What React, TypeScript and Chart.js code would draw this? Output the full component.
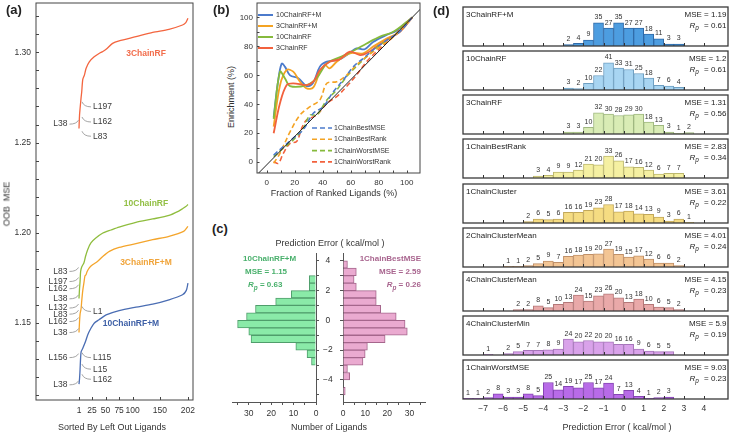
import React, { useEffect, useRef } from "react";
import { Chart, registerables } from "chart.js";
Chart.register(...registerables);

const FONT = "'Liberation Sans', Arial, Helvetica, sans-serif";
const INK = "#333333";
const AXIS = "#555555";

// ---------------- Panel (a): sorted OOB MSE ----------------
const aXTicks = [1, 25, 50, 75, 100, 150, 202];
const aYTicks = [1.11, 1.12, 1.13, 1.14, 1.15, 1.16, 1.17, 1.18, 1.19, 1.2, 1.21, 1.22, 1.23, 1.24, 1.25, 1.26, 1.27, 1.28, 1.29, 1.3, 1.31, 1.32];
const rf3N = [1, 2, 3, 5, 6, 8, 11, 14, 20, 29, 38, 45, 51, 63, 75, 106, 137, 167, 192, 198, 202];
const rf3Mse = [1.2578, 1.2652, 1.2689, 1.2753, 1.278, 1.285, 1.2874, 1.2911, 1.2948, 1.2976, 1.2994, 1.3005, 1.3017, 1.305, 1.3064, 1.3087, 1.3111, 1.3128, 1.3152, 1.3165, 1.3189];
const rf10N = [1, 2, 3, 4, 6, 10, 13, 17, 23, 32, 45, 60, 75, 106, 137, 167, 185, 192, 198, 202];
const rf10Mse = [1.1635, 1.169, 1.173, 1.1785, 1.181, 1.1832, 1.1868, 1.1906, 1.1943, 1.197, 1.1998, 1.2015, 1.2031, 1.2057, 1.2076, 1.2096, 1.212, 1.2133, 1.2145, 1.2156];
const rf3mN = [1, 2, 3, 4, 5, 6, 8, 10, 12, 14, 16, 20, 26, 35, 45, 57, 75, 106, 137, 167, 194, 202];
const rf3mMse = [1.1446, 1.1507, 1.1548, 1.1565, 1.1582, 1.162, 1.168, 1.172, 1.176, 1.1767, 1.1785, 1.1805, 1.1822, 1.184, 1.1868, 1.1896, 1.1918, 1.1939, 1.1961, 1.198, 1.2007, 1.2035];
const rf10mN = [1, 2, 3, 4, 5, 8, 13, 17, 23, 29, 38, 51, 75, 106, 137, 167, 192, 199, 202];
const rf10mMse = [1.116, 1.119, 1.1243, 1.1307, 1.134, 1.1359, 1.1396, 1.1433, 1.147, 1.1498, 1.1517, 1.1544, 1.1568, 1.1587, 1.1604, 1.1628, 1.1656, 1.168, 1.172];
const aColors = ["#f3653f", "#8fbd3e", "#f4a52c", "#4a6db3"];
const aNameText = ["3ChainRF", "10ChainRF", "3ChainRF+M", "10ChainRF+M"];
const aNameColor = ["#f26d4c", "#92bf44", "#f0a43a", "#3d5fa6"];
const aNameN = [124.6, 124.6, 124.6, 96.9];
const aNameMse = [1.2994, 1.2159, 1.1832, 1.1498];
const aNoteText = ["L197", "L162", "L83", "L38", "L83", "L197", "L162", "L38", "L132", "L83", "L162", "L38", "L1", "L156", "L115", "L15", "L162", "L38"];
const aNoteSide = ["r", "r", "r", "l", "l", "l", "l", "l", "l", "l", "l", "l", "r", "l", "r", "r", "r", "l"];
const aNoteMse = [1.2698, 1.2614, 1.2535, 1.2602, 1.1785, 1.1729, 1.1689, 1.1633, 1.1582, 1.1548, 1.1507, 1.1446, 1.1563, 1.1307, 1.1307, 1.1243, 1.1187, 1.1156];
const aNoteLeftN = -20.2;
const aNoteRightN = 26.8;

// ---------------- Panel (b): enrichment ----------------
const bSolidNames = ["10ChainRF+M", "3ChainRF+M", "10ChainRF", "3ChainRF"];
const bDashNames = ["1ChainBestMSE", "1ChainBestRank", "1ChainWorstMSE", "1ChainWorstRank"];
const bColors = ["#4c7bcc", "#f4a323", "#86ba3c", "#f2613d"];
const bTicks = [0, 20, 40, 60, 80, 100];
const bMinorTicks = [0, 10, 20, 30, 40, 50, 60, 70, 80, 90, 100];
const bRf10mX = [5, 8, 10.7, 13, 16.7, 22.6, 28.6, 33, 38, 43, 52, 59.5, 64, 70, 76, 86, 93, 104];
const bRf10mY = [31, 55, 68, 66, 60, 58, 52.6, 54.5, 66, 69.4, 71, 75.6, 78.6, 78, 83, 88, 91, 100];
const bRf3mX = [5, 9.5, 14.3, 19, 23.8, 28.6, 33.3, 38, 41.7, 45, 50, 59.5, 69, 76, 86, 95, 104];
const bRf3mY = [24.6, 53, 63.7, 62.5, 55.6, 51, 51.7, 62.5, 67, 64.8, 69.4, 75.2, 75.2, 79.8, 85.5, 90, 100];
const bRf10X = [5, 9.5, 13, 16.7, 28.6, 35.7, 43, 52, 62, 71.4, 81, 90.5, 104];
const bRf10Y = [30, 62.5, 58, 52.6, 53.3, 58, 68.3, 72.4, 77, 82, 86.7, 90, 100];
const bRf3X = [5, 9.5, 14.3, 19, 28.6, 33.3, 38, 45, 52, 59.5, 66.7, 71.4, 78.6, 86, 95, 104];
const bRf3Y = [20, 40.7, 53.3, 54.5, 53.3, 55.6, 63.7, 69.4, 71, 76.3, 74, 75.2, 79.8, 84.4, 90, 100];
const bBestMseX = [5, 11.9, 19, 26, 33.3, 40.5, 47.6, 54.8, 62, 69, 76, 86, 95, 104];
const bBestMseY = [5, 10.8, 16.6, 22.3, 33.8, 38.4, 48.7, 56.8, 66, 71.7, 77.5, 84.4, 90, 100];
const bBestRankX = [5, 9.5, 16.7, 23.8, 31, 38, 43, 50, 57, 64, 71.4, 81, 90.5, 104];
const bBestRankY = [-0.7, 6.2, 21, 32.6, 38.4, 43, 54.5, 55.6, 60, 67, 72.9, 79.8, 86.7, 100];
const bWorstMseX = [5, 11.9, 19, 26, 31, 35.7, 43, 50, 57, 64, 71.4, 81, 90.5, 104];
const bWorstMseY = [3.9, 9.7, 15.4, 23.4, 32.6, 32.6, 43, 49.9, 59, 66, 72.9, 81, 86.7, 100];
const bWorstRankX = [5, 8.3, 11.9, 16.7, 21.4, 25, 28.6, 35.7, 43, 50, 57, 64, 71.4, 81, 90.5, 104];
const bWorstRankY = [0.5, -0.7, 6.2, 13.1, 14.3, 23.4, 29.2, 32.6, 40.7, 45.3, 52.2, 60, 69.4, 78.6, 86.7, 100];
const bDiagX = [-7, 110];
const bDiagY = [-8.65, 105.9];

// ---------------- Panel (c): mirrored histograms ----------------
const cCenters = [3.75, 3.25, 2.75, 2.25, 1.75, 1.25, 0.75, 0.25, -0.25, -0.75, -1.25, -1.75, -2.25, -2.75, -3.25, -3.75, -4.25, -4.75];
const cGreen = [0, 0, 3, 3, 11, 18, 27, 31, 35, 30, 29, 9, 4, 2, 0, 0, 0, 0];
const cPink = [2, 6, 5, 6, 15, 15, 17, 24, 28, 29, 19, 11, 10, 9, 2, 3, 0, 1];
const cYTicks = [-5, -4, -3, -2, -1, 0, 1, 2, 3, 4];
const cXTicks = [0, 5, 10, 15, 20, 25, 30, 35];

// ---------------- Panel (d): histograms ----------------
const dNames = ["3ChainRF+M", "10ChainRF", "3ChainRF", "1ChainBestRank", "1ChainCluster", "2ChainClusterMean", "4ChainClusterMean", "4ChainClusterMin", "1ChainWorstMSE"];
const dStart = [-3, -3, -3, -4.5, -5, -6, -5.5, -7, -8];
const dCount0 = [2, 4, 9, 35, 27, 35, 27, 27, 18, 11, 3, 3];
const dCount1 = [3, 2, 10, 22, 41, 33, 31, 25, 18, 7, 6, 4];
const dCount2 = [3, 3, 10, 32, 30, 28, 29, 30, 18, 13, 3, 1, 2];
const dCount3 = [3, 4, 9, 9, 12, 21, 20, 33, 26, 17, 16, 12, 6, 7, 7];
const dCount4 = [2, 6, 5, 6, 16, 16, 19, 23, 28, 17, 18, 14, 13, 9, 3, 6, 1];
const dCount5 = [1, 1, 2, 5, 9, 7, 16, 18, 19, 20, 27, 19, 15, 17, 12, 6, 6, 2];
const dCount6 = [2, 2, 8, 5, 10, 13, 24, 15, 23, 26, 20, 13, 18, 10, 6, 5, 2];
const dCount7 = [1, 0, 2, 5, 7, 7, 8, 9, 24, 20, 22, 20, 20, 16, 16, 9, 6, 5, 5];
const dCount8 = [1, 1, 2, 8, 3, 3, 8, 5, 25, 14, 19, 17, 25, 17, 24, 7, 13, 4, 1, 2, 3];
const dCounts = [dCount0, dCount1, dCount2, dCount3, dCount4, dCount5, dCount6, dCount7, dCount8];
const dMse = ["1.19", "1.2", "1.31", "2.83", "3.61", "4.01", "4.15", "5.9", "9.03"];
const dRp = ["0.61", "0.61", "0.56", "0.34", "0.22", "0.24", "0.23", "0.19", "0.23"];
const dFill = ["#4d9de0", "#a8d5f2", "#d9ecb5", "#f5f0a2", "#f5dc82", "#f3c594", "#e9a9a9", "#d9a2ea", "#b86be8"];
const dEdge = ["#2f6aa8", "#6e9fc2", "#9fb880", "#bdb86e", "#c2a85a", "#c09068", "#b47878", "#a676ba", "#8645b4"];
const dXTicks = [-7, -6, -5, -4, -3, -2, -1, 0, 1, 2, 3, 4];

const minus = (v: number) => (v < 0 ? "\u2212" + String(Math.abs(v)) : String(v));

const base = {
  responsive: false,
  animation: false,
  events: [],
  plugins: { legend: { display: false }, tooltip: { enabled: false } },
};

const fitY = (w: number) => (s: any) => {
  s.width = w;
  s.paddingTop = 0;
  s.paddingBottom = 0;
};
const fitX = (h: number) => (s: any) => {
  s.height = h;
  s.paddingLeft = 0;
  s.paddingRight = 0;
};

// frame + inward tick marks on the left and bottom edges
const framePlugin = (xVals: number[], yVals: number[], len = 3) => ({
  id: "frame",
  afterDraw(chart: any) {
    const { ctx, chartArea: a } = chart;
    const xs = chart.scales.x;
    const ys = chart.scales.y;
    ctx.save();
    ctx.strokeStyle = "#444";
    ctx.lineWidth = 1;
    ctx.strokeRect(a.left, a.top, a.right - a.left, a.bottom - a.top);
    ctx.beginPath();
    xVals.forEach((v) => {
      const x = Math.round(xs.getPixelForValue(v)) + 0.5;
      ctx.moveTo(x, a.bottom);
      ctx.lineTo(x, a.bottom - len);
    });
    yVals.forEach((v) => {
      const y = Math.round(ys.getPixelForValue(v)) + 0.5;
      ctx.moveTo(a.left, y);
      ctx.lineTo(a.left + len, y);
    });
    ctx.stroke();
    ctx.restore();
  },
});

function pts(xs: number[], ys: number[]) {
  return xs.map((x, i) => ({ x, y: ys[i] }));
}

function configA(): any {
  const mk = (n: number[], v: number[], c: string) => ({
    data: pts(n, v),
    borderColor: c,
    borderWidth: 1.3,
    pointRadius: 0,
    tension: 0.25,
    fill: false,
  });
  const notes = {
    id: "notes",
    afterDatasetsDraw(chart: any) {
      const { ctx } = chart;
      const xs = chart.scales.x;
      const ys = chart.scales.y;
      ctx.save();
      ctx.font = `8.5px ${FONT}`;
      ctx.textBaseline = "middle";
      aNoteText.forEach((t, i) => {
        const y = ys.getPixelForValue(aNoteMse[i]);
        const right = aNoteSide[i] === "r";
        const x = xs.getPixelForValue(right ? aNoteRightN : aNoteLeftN);
        ctx.fillStyle = "#3a3a3a";
        ctx.textAlign = right ? "left" : "right";
        ctx.fillText(t, x, y);
        ctx.strokeStyle = "#9a9a9a";
        ctx.lineWidth = 0.9;
        ctx.beginPath();
        if (right) {
          ctx.moveTo(x - 11, y - 5);
          ctx.quadraticCurveTo(x - 9, y, x - 2, y);
        } else {
          ctx.moveTo(x + 2, y);
          ctx.quadraticCurveTo(x + 9, y, x + 11, y - 4);
        }
        ctx.stroke();
      });
      ctx.font = `bold 8.5px ${FONT}`;
      ctx.textAlign = "center";
      aNameText.forEach((t, i) => {
        ctx.fillStyle = aNameColor[i];
        ctx.fillText(t, xs.getPixelForValue(aNameN[i]), ys.getPixelForValue(aNameMse[i]));
      });
      ctx.restore();
    },
  };
  return {
    type: "line",
    data: {
      datasets: [
        mk(rf3N, rf3Mse, aColors[0]),
        mk(rf10N, rf10Mse, aColors[1]),
        mk(rf3mN, rf3mMse, aColors[2]),
        mk(rf10mN, rf10mMse, aColors[3]),
      ],
    },
    options: {
      ...base,
      layout: { padding: { top: 3, right: 7, left: 0, bottom: 0 } },
      scales: {
        x: {
          type: "linear",
          min: -78.3,
          max: 211.3,
          afterBuildTicks: (s: any) => {
            s.ticks = aXTicks.map((v) => ({ value: v }));
          },
          afterFit: fitX(34),
          ticks: { autoSkip: false, maxRotation: 0, font: { family: FONT, size: 8.5 }, color: INK, padding: 6, callback: (v: any) => String(v) },
          grid: { drawOnChartArea: false, drawTicks: false },
          border: { display: false },
        },
        y: {
          type: "linear",
          min: 1.1072,
          max: 1.3274,
          afterBuildTicks: (s: any) => {
            s.ticks = aYTicks.map((v) => ({ value: v }));
          },
          afterFit: fitY(36),
          ticks: {
            autoSkip: false,
            font: { family: FONT, size: 8.5 },
            color: INK,
            padding: 5,
            callback: (v: any) => (Math.round(v * 100) % 5 === 0 ? Number(v).toFixed(2) : ""),
          },
          grid: { drawOnChartArea: false, drawTicks: false },
          border: { display: false },
        },
      },
    },
    plugins: [framePlugin(aXTicks, aYTicks, 3), notes],
  };
}

function configB(): any {
  const solid = (xs: number[], ys: number[], c: string) => ({
    data: pts(xs, ys),
    borderColor: c,
    borderWidth: 1.8,
    pointRadius: 0,
    tension: 0.35,
    fill: false,
  });
  const dash = (xs: number[], ys: number[], c: string) => ({ ...solid(xs, ys, c), borderDash: [5, 3], borderWidth: 1.6 });
  const legend = {
    id: "bLegend",
    afterDraw(chart: any) {
      const { ctx, chartArea: a } = chart;
      ctx.save();
      ctx.font = `7px ${FONT}`;
      ctx.textBaseline = "middle";
      ctx.textAlign = "left";
      bSolidNames.forEach((nm, i) => {
        const y = a.top + 12 + i * 11;
        ctx.strokeStyle = bColors[i];
        ctx.lineWidth = 2;
        ctx.setLineDash([]);
        ctx.beginPath();
        ctx.moveTo(a.left + 1, y);
        ctx.lineTo(a.left + 16, y);
        ctx.stroke();
        ctx.fillStyle = INK;
        ctx.fillText(nm, a.left + 19, y);
      });
      bDashNames.forEach((nm, i) => {
        const y = a.top + 125 + i * 11.3;
        ctx.strokeStyle = bColors[i];
        ctx.lineWidth = 1.6;
        ctx.setLineDash([5, 3]);
        ctx.beginPath();
        ctx.moveTo(a.left + 55, y);
        ctx.lineTo(a.left + 75, y);
        ctx.stroke();
        ctx.fillStyle = INK;
        ctx.fillText(nm, a.left + 77, y);
      });
      ctx.restore();
    },
  };
  const axisCommon = (min: number, max: number, pad: number) => ({
    type: "linear",
    min,
    max,
    afterBuildTicks: (s: any) => {
      s.ticks = bTicks.map((v) => ({ value: v }));
    },
    ticks: { autoSkip: false, maxRotation: 0, font: { family: FONT, size: 8 }, color: INK, padding: pad },
    grid: { drawOnChartArea: false, drawTicks: false },
    border: { display: false },
  });
  return {
    type: "line",
    data: {
      datasets: [
        { data: pts(bDiagX, bDiagY), borderColor: "#222", borderWidth: 1, pointRadius: 0, tension: 0 },
        dash(bBestMseX, bBestMseY, bColors[0]),
        dash(bBestRankX, bBestRankY, bColors[1]),
        dash(bWorstMseX, bWorstMseY, bColors[2]),
        dash(bWorstRankX, bWorstRankY, bColors[3]),
        solid(bRf3X, bRf3Y, bColors[3]),
        solid(bRf10X, bRf10Y, bColors[2]),
        solid(bRf3mX, bRf3mY, bColors[1]),
        solid(bRf10mX, bRf10mY, bColors[0]),
      ],
    },
    options: {
      ...base,
      layout: { padding: { top: 3, right: 5, left: 0, bottom: 0 } },
      scales: {
        x: { ...axisCommon(-6.9, 109.5, 5), afterFit: fitX(27) },
        y: { ...axisCommon(-7.4, 109.9, 4), afterFit: fitY(17) },
      },
    },
    plugins: [framePlugin(bMinorTicks, bMinorTicks, 2.5), legend],
  };
}

function configC(left: boolean): any {
  const counts = left ? cGreen : cPink;
  return {
    type: "bar",
    data: {
      datasets: [
        {
          data: cCenters.map((y, i) => ({ x: counts[i], y })),
          backgroundColor: left ? "#8aeaa8" : "#eaaad0",
          borderColor: left ? "#4f9d6b" : "#a5668c",
          borderWidth: 1,
          barPercentage: 1,
          categoryPercentage: 1,
        },
      ],
    },
    options: {
      ...base,
      indexAxis: "y",
      layout: { padding: left ? { left: 7, top: 8, right: 0, bottom: 0 } : { left: 0, top: 8, right: 5, bottom: 0 } },
      scales: {
        x: {
          type: "linear",
          reverse: left,
          min: 0,
          max: left ? 37.5 : 37,
          offset: false,
          afterBuildTicks: (s: any) => {
            s.ticks = cXTicks.map((v) => ({ value: v }));
          },
          afterFit: fitX(32),
          ticks: { autoSkip: false, maxRotation: 0, font: { family: FONT, size: 8.5 }, color: INK, padding: 4, callback: (v: any) => (v % 10 === 0 ? String(v) : "") },
          grid: { drawOnChartArea: false, tickLength: 3, color: AXIS, offset: false },
          border: { display: true, color: AXIS },
        },
        y: {
          type: "linear",
          position: left ? "right" : "left",
          min: -5.48,
          max: 4.52,
          offset: false,
          afterBuildTicks: (s: any) => {
            s.ticks = cYTicks.map((v) => ({ value: v }));
          },
          afterFit: fitY(left ? 27 : 5),
          ticks: {
            display: left,
            autoSkip: false,
            crossAlign: "center",
            font: { family: FONT, size: 8.5 },
            color: INK,
            padding: 4,
            callback: (v: any) => (v % 2 === 0 ? minus(v) : ""),
          },
          grid: { drawOnChartArea: false, tickLength: 3, color: AXIS, offset: false },
          border: { display: true, color: AXIS },
        },
      },
    },
  };
}

function drawRp(ctx: any, xRight: number, y: number, val: string, size: number) {
  ctx.textAlign = "right";
  ctx.font = `${size}px ${FONT}`;
  const rest = ` = ${val}`;
  ctx.fillText(rest, xRight, y);
  let x = xRight - ctx.measureText(rest).width - 3;
  ctx.font = `italic ${size * 0.8}px ${FONT}`;
  ctx.fillText("p", x, y + 2.5);
  x -= ctx.measureText("p").width;
  ctx.font = `italic ${size}px ${FONT}`;
  ctx.fillText("R", x, y);
}

function configD(i: number): any {
  const last = i === dNames.length - 1;
  const counts = dCounts[i];
  const rowPlugin = {
    id: "row",
    afterDatasetsDraw(chart: any) {
      const { ctx, chartArea: a } = chart;
      const xs = chart.scales.x;
      const meta = chart.getDatasetMeta(0);
      ctx.save();
      ctx.font = `7px ${FONT}`;
      ctx.fillStyle = "#333";
      ctx.textAlign = "center";
      ctx.textBaseline = "bottom";
      meta.data.forEach((el: any, k: number) => {
        if (counts[k] > 0) ctx.fillText(String(counts[k]), el.x, el.y - 2);
      });
      ctx.strokeStyle = "#333";
      ctx.lineWidth = 1;
      dXTicks.forEach((v) => {
        const x = Math.round(xs.getPixelForValue(v)) + 0.5;
        ctx.beginPath();
        ctx.moveTo(x, a.bottom);
        ctx.lineTo(x, a.bottom - 3);
        ctx.stroke();
      });
      ctx.strokeStyle = "#3a3a3a";
      ctx.lineWidth = 1.3;
      ctx.strokeRect(a.left, a.top, a.right - a.left, a.bottom - a.top);
      ctx.fillStyle = "#222";
      ctx.textBaseline = "middle";
      ctx.textAlign = "left";
      ctx.font = `8px ${FONT}`;
      ctx.fillText(dNames[i], a.left + 3, a.top + 8);
      ctx.textAlign = "right";
      ctx.fillText(`MSE = ${dMse[i]}`, a.right - 1.5, a.top + 8);
      drawRp(ctx, a.right - 1.5, a.top + 18.5, dRp[i], 8);
      ctx.restore();
    },
  };
  return {
    type: "bar",
    data: {
      datasets: [
        {
          data: counts.map((c, k) => ({ x: dStart[i] + 0.25 + 0.5 * k, y: c })),
          backgroundColor: dFill[i],
          borderColor: dEdge[i],
          borderWidth: 1,
          barPercentage: 1,
          categoryPercentage: 1,
        },
      ],
    },
    options: {
      ...base,
      layout: { padding: { left: 1, right: 1, top: 1, bottom: last ? 0 : 1 } },
      scales: {
        x: {
          type: "linear",
          min: -8,
          max: 5.2,
          offset: false,
          display: last,
          afterBuildTicks: (s: any) => {
            s.ticks = dXTicks.map((v) => ({ value: v }));
          },
          afterFit: fitX(last ? 22 : 0),
          ticks: { autoSkip: false, maxRotation: 0, font: { family: FONT, size: 8.5 }, color: INK, padding: 5, callback: (v: any) => minus(v) },
          grid: { display: false, drawTicks: false, offset: false },
          border: { display: false },
        },
        y: {
          type: "linear",
          min: 0,
          max: 59,
          display: false,
          afterFit: fitY(0),
        },
      },
    },
    plugins: [rowPlugin],
  };
}

function Plot({ left, top, width, height, config }: { left: number; top: number; width: number; height: number; config: () => any }) {
  const ref = useRef<HTMLCanvasElement | null>(null);
  useEffect(() => {
    const c = new Chart(ref.current as HTMLCanvasElement, config());
    return () => c.destroy();
  }, []);
  return <canvas ref={ref} width={width} height={height} style={{ position: "absolute", left, top, width, height }} />;
}

function Txt({ x, y, children, align = "center", size = 9, color = INK, weight = "normal", rotate = false }: any) {
  const tx = align === "center" ? "-50%" : align === "right" ? "-100%" : "0";
  return (
    <div
      style={{
        position: "absolute",
        left: x,
        top: y,
        transform: `translate(${tx}, -50%)${rotate ? " rotate(-90deg)" : ""}`,
        whiteSpace: "nowrap",
        fontFamily: FONT,
        fontSize: size,
        color,
        fontWeight: weight,
        lineHeight: 1,
      }}
    >
      {children}
    </div>
  );
}

const Rp = ({ v }: { v: string }) => (
  <span>
    <i>R</i>
    <i style={{ fontSize: "0.8em", position: "relative", top: 2.5 }}>p</i>
    {"  = " + v}
  </span>
);

export default function App() {
  const rowTop = (i: number) => Math.round(7.3 + 44.06 * i) - 1;
  return (
    <div style={{ position: "absolute", left: 0, top: 0, width: 730, height: 434, background: "#fff", overflow: "hidden" }}>
      <Plot left={0} top={0} width={200} height={434} config={configA} />
      <Plot left={240} top={0} width={185} height={200} config={configB} />
      <Plot left={225} top={245} width={118} height={189} config={() => configC(true)} />
      <Plot left={338} top={245} width={92} height={189} config={() => configC(false)} />
      {dNames.map((_, i) => (
        <Plot key={i} left={462} top={rowTop(i)} width={267} height={i === dNames.length - 1 ? 62 : 41} config={() => configD(i)} />
      ))}

      <Txt x={6} y={9} align="left" size={13} weight="bold" color="#222">(a)</Txt>
      <Txt x={213} y={9} align="left" size={13} weight="bold" color="#222">(b)</Txt>
      <Txt x={212} y={228} align="left" size={13} weight="bold" color="#222">(c)</Txt>
      <Txt x={433} y={10} align="left" size={13} weight="bold" color="#222">(d)</Txt>

      <Txt x={112} y={427} size={9}>Sorted By Left Out Ligands</Txt>
      <Txt x={7} y={204} size={9} rotate>OOB&nbsp;&nbsp;MSE</Txt>

      <Txt x={334} y={193} size={9}>Fraction of Ranked Ligands (%)</Txt>
      <Txt x={231} y={97} size={9} rotate>Enrichment (%)</Txt>

      <Txt x={330} y={243} size={9}>Prediction Error ( kcal/mol )</Txt>
      <Txt x={329} y={427} size={9}>Number of Ligands</Txt>
      <Txt x={243} y={259} align="left" size={8} weight="bold" color="#49b06c">10ChainRF+M</Txt>
      <Txt x={245} y={272} align="left" size={8} weight="bold" color="#49b06c">MSE = 1.15</Txt>
      <Txt x={248} y={285} align="left" size={8} weight="bold" color="#49b06c"><Rp v="0.63" /></Txt>
      <Txt x={421} y={259} align="right" size={8} weight="bold" color="#a8648e">1ChainBestMSE</Txt>
      <Txt x={421} y={272} align="right" size={8} weight="bold" color="#a8648e">MSE = 2.59</Txt>
      <Txt x={421} y={285} align="right" size={8} weight="bold" color="#a8648e"><Rp v="0.26" /></Txt>

      <Txt x={617} y={427} size={9}>Prediction Error ( kcal/mol )</Txt>
    </div>
  );
}
